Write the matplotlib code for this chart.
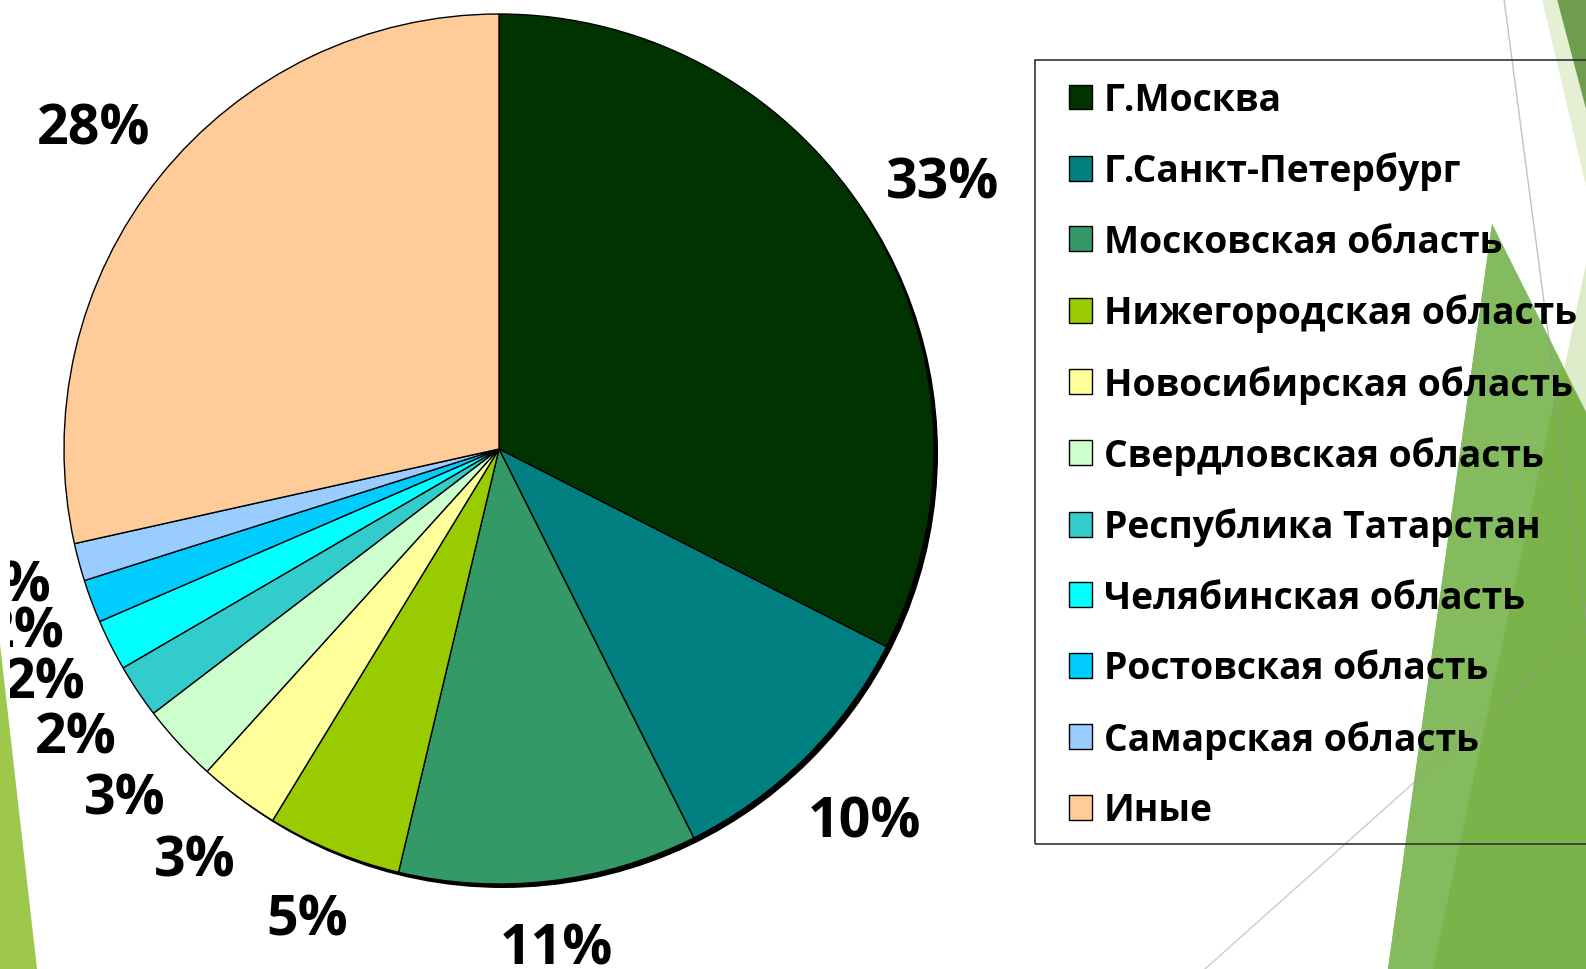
import matplotlib
matplotlib.use('Agg')
import numpy as np
import matplotlib.pyplot as plt
from matplotlib.patches import Polygon, Rectangle, Circle
from matplotlib.transforms import Bbox, TransformedBbox

plt.rcParams['font.family'] = ['Open Sans', 'DejaVu Sans']

# данные диаграммы
regions = ['Г.Москва', 'Г.Санкт-Петербург', 'Московская область',
           'Нижегородская область', 'Новосибирская область',
           'Свердловская область', 'Республика Татарстан',
           'Челябинская область', 'Ростовская область',
           'Самарская область', 'Иные']
shares = [32.51, 10.1, 11.1, 5.0, 3.0, 2.9, 2.0, 1.9, 1.6, 1.4, 28.49]
colors = ['#003300', '#008080', '#339966', '#99CC00', '#FFFF99', '#CCFFCC',
          '#33CCCC', '#00FFFF', '#00CCFF', '#99CCFF', '#FFCC99']

W, H = 1586, 970
fig = plt.figure(figsize=(W / 100, H / 100), dpi=100)
ax = fig.add_axes([0, 0, 1, 1])


def py(y):
    # координата от верхнего края картинки
    return H - y


# фон слайда: зелёные треугольники
deco = [
    ([(0, 645), (37, 970), (0, 970)], '#9DC84B'),
    ([(1542, 0), (1586, 0), (1586, 187)], '#E4EFD3'),
    ([(1557, 0), (1586, 0), (1586, 110)], '#6E9D4D'),
    ([(1586, 265), (1560, 390), (1586, 420)], '#DDEBC8'),
    ([(1492, 225), (1586, 413), (1586, 970), (1388, 970)], '#7AB34A'),
    ([(1492, 225), (1562, 365), (1433, 970), (1388, 970)], '#84BB5E'),
]
for pts, c in deco:
    ax.add_patch(Polygon([(x, py(y)) for x, y in pts], closed=True,
                         fc=c, ec='none', zorder=0))
ax.plot([1504, 1586], [py(0), py(621)], color='#999999', alpha=0.6, lw=1, zorder=0.5)
ax.plot([1205, 1586], [py(970), py(630)], color='#999999', alpha=0.5, lw=1, zorder=0.5)

# круговая диаграмма
cx, cy, r = 499, py(450), 435
ax.add_patch(Circle((cx + 4, cy - 4), r, fc='black', ec='none', zorder=1))
label_size = 40
wedges, texts, autotexts = ax.pie(
    shares, colors=colors, startangle=90, counterclock=False,
    center=(cx, cy), radius=r,
    autopct=lambda p: f'{p:.0f}%', pctdistance=1.17,
    wedgeprops=dict(edgecolor='black', linewidth=1.0, zorder=2),
    textprops=dict(fontsize=label_size, fontweight='bold', color='black'))

ax.set_xlim(0, W)
ax.set_ylim(0, H)
ax.set_axis_off()

# подписи снаружи: отступ от края круга с учётом размера надписи
fig.canvas.draw()
renderer = fig.canvas.get_renderer()
gap = 30
cap = label_size * 100 / 72 * 0.714
for w, t in zip(wedges, autotexts):
    ang = np.deg2rad((w.theta1 + w.theta2) / 2)
    bb = t.get_window_extent(renderer)
    d = r + gap + bb.width * 0.425 * abs(np.cos(ang)) + bb.height / 2 * abs(np.sin(ang))
    t.set_verticalalignment('baseline')
    t.set_position((cx + d * np.cos(ang), cy + d * np.sin(ang) - cap / 2))

clip = TransformedBbox(Bbox([[10, 0], [W, H]]), ax.transData)
for t in autotexts:
    t.set_zorder(5)
    t.set_clip_box(clip)
    t.set_clip_on(True)

# легенда
leg = ax.legend(wedges, regions, loc='upper left',
                bbox_to_anchor=(1069, py(82)), bbox_transform=ax.transData,
                frameon=False, prop=dict(size=26.8, weight='bold'),
                handlelength=0.63, handleheight=0.65, handletextpad=0.3,
                labelspacing=0.875, borderpad=0, borderaxespad=0)
leg.set_zorder(6)
ax.add_patch(Rectangle((1035, py(845)), 600, 784, fill=False,
                       ec='#333333', lw=1.2, zorder=4))

fig.savefig('out.png', dpi=100)
